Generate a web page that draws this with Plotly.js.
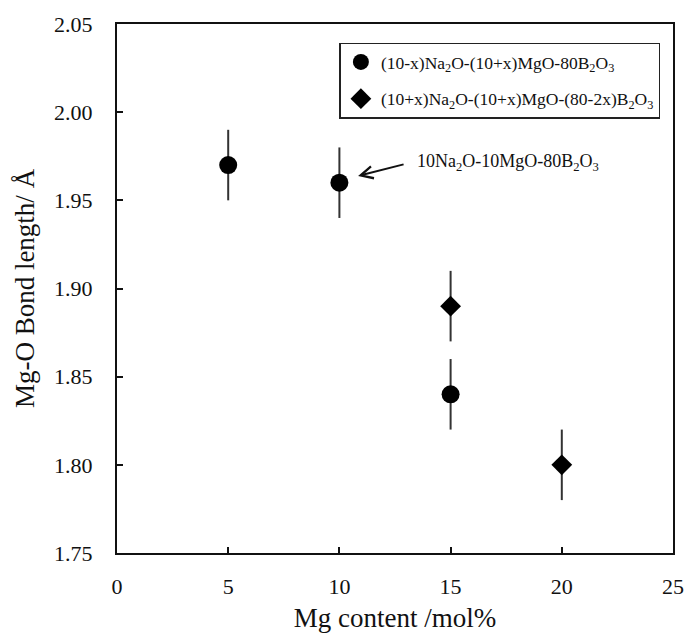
<!DOCTYPE html>
<html>
<head>
<meta charset="utf-8">
<script src="https://cdn.plot.ly/plotly-3.0.1.min.js"></script>
<style>
html,body{margin:0;padding:0;background:#fff;}
#chart{width:684px;height:636px;}
</style>
</head>
<body>
<div id="chart"></div>
<script>
var circleX = [5, 10, 15];
var circleY = [1.97, 1.96, 1.84];
var circleErr = [0.02, 0.02, 0.02];
var diamondX = [15, 20];
var diamondY = [1.89, 1.80];
var diamondErr = [0.02, 0.02];
var circleName = '(10-x)Na<sub>2</sub>O-(10+x)MgO-80B<sub>2</sub>O<sub>3</sub>';
var diamondName = '(10+x)Na<sub>2</sub>O-(10+x)MgO-(80-2x)B<sub>2</sub>O<sub>3</sub>';
var noteText = '10Na<sub>2</sub>O-10MgO-80B<sub>2</sub>O<sub>3</sub>';
var xTicks = [0, 5, 10, 15, 20, 25];
var yTicks = [1.75, 1.80, 1.85, 1.90, 1.95, 2.00, 2.05];

var font = "'Liberation Serif', 'Times New Roman', serif";

var traces = [
  {
    x: circleX, y: circleY, name: circleName, type: 'scatter', mode: 'markers', legendgroup: 'a',
    marker: {symbol: 'circle', size: 18, color: '#000'},
    error_y: {type: 'data', array: circleErr, visible: true, color: '#333', thickness: 2, width: 0}
  },
  {
    x: diamondX, y: diamondY, name: diamondName, type: 'scatter', mode: 'markers', legendgroup: 'b',
    marker: {symbol: 'diamond', size: 16, color: '#000'},
    error_y: {type: 'data', array: diamondErr, visible: true, color: '#333', thickness: 2, width: 0}
  }
];

var layout = {
  width: 684, height: 636,
  margin: {l: 117, r: 11, t: 24, b: 83},
  paper_bgcolor: '#fff', plot_bgcolor: '#fff',
  font: {family: font, color: '#111', size: 20},
  showlegend: true,
  legend: {
    x: 0.40, y: 0.965, xanchor: 'left', yanchor: 'top',
    bordercolor: '#222', borderwidth: 1.5, bgcolor: '#fff',
    font: {family: font, size: 17.5, color: '#111'},
    tracegroupgap: 11
  },
  xaxis: {
    range: [0, 25], tickvals: xTicks, ticktext: xTicks.map(String),
    ticks: 'inside', ticklen: 6, tickwidth: 2, tickcolor: '#111',
    showline: true, linecolor: '#111', linewidth: 2, mirror: true,
    showgrid: false, zeroline: false,
    tickfont: {family: font, size: 22, color: '#111'},
    ticklabelstandoff: 13,
    title: {text: 'Mg content /mol%', font: {family: font, size: 27, color: '#111'}, standoff: 10}
  },
  yaxis: {
    range: [1.75, 2.05], tickvals: yTicks, ticktext: yTicks.map(function(v){return v.toFixed(2);}),
    ticks: 'inside', ticklen: 6, tickwidth: 2, tickcolor: '#111',
    showline: true, linecolor: '#111', linewidth: 2, mirror: true,
    showgrid: false, zeroline: false,
    tickfont: {family: font, size: 22, color: '#111'},
    ticklabelstandoff: 18,
    title: {text: 'Mg-O Bond length/ Å', font: {family: font, size: 27, color: '#111'}, standoff: 12}
  },
  annotations: [
    {
      x: 10.84, y: 1.9638, xref: 'x', yref: 'y', text: '',
      showarrow: true, ax: 47, ay: -12, arrowhead: 5, arrowsize: 1.2, arrowwidth: 2, arrowcolor: '#111'
    },
    {
      x: (415 - 117) / 556, y: (553 - 162) / 529, xref: 'paper', yref: 'paper', text: noteText, showarrow: false,
      xanchor: 'left', yanchor: 'middle',
      font: {family: font, size: 18, color: '#111'}
    }
  ]
};

Plotly.newPlot('chart', traces, layout, {displayModeBar: false, staticPlot: true});
</script>
</body>
</html>
